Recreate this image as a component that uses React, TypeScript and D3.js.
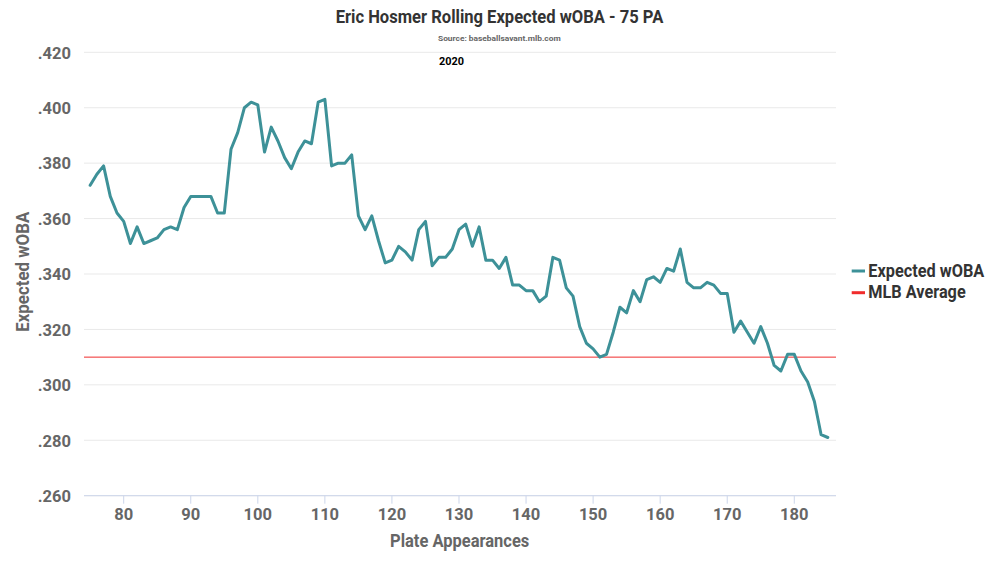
import React from "react";
import * as d3 from "d3";

const startPA = 75;
const xwoba: number[] = [
  0.372, 0.376, 0.379, 0.368, 0.362, 0.359, 0.351, 0.357, 0.351, 0.352,
  0.353, 0.356, 0.357, 0.356, 0.364, 0.368, 0.368, 0.368, 0.368, 0.362,
  0.362, 0.385, 0.391, 0.400, 0.402, 0.401, 0.384, 0.393, 0.388, 0.382,
  0.378, 0.384, 0.388, 0.387, 0.402, 0.403, 0.379, 0.380, 0.380, 0.383,
  0.361, 0.356, 0.361, 0.352, 0.344, 0.345, 0.350, 0.348, 0.345, 0.356,
  0.359, 0.343, 0.346, 0.346, 0.349, 0.356, 0.358, 0.350, 0.357, 0.345,
  0.345, 0.342, 0.346, 0.336, 0.336, 0.334, 0.334, 0.330, 0.332, 0.346,
  0.345, 0.335, 0.332, 0.321, 0.315, 0.313, 0.310, 0.311, 0.319, 0.328,
  0.326, 0.334, 0.330, 0.338, 0.339, 0.337, 0.342, 0.341, 0.349, 0.337,
  0.335, 0.335, 0.337, 0.336, 0.333, 0.333, 0.319, 0.323, 0.319, 0.315,
  0.321, 0.315, 0.307, 0.305, 0.311, 0.311, 0.305, 0.301, 0.294, 0.282,
  0.281,
];
const mlbAverage = 0.31;
const xTicks = [80, 90, 100, 110, 120, 130, 140, 150, 160, 170, 180];
const yTicks = [0.26, 0.28, 0.3, 0.32, 0.34, 0.36, 0.38, 0.4, 0.42];

const title = "Eric Hosmer Rolling Expected wOBA - 75 PA";
const subtitle = "Source: baseballsavant.mlb.com";
const seasonLabel = "2020";
const xTitle = "Plate Appearances";
const yTitle = "Expected wOBA";
const seriesNames = ["Expected wOBA", "MLB Average"];

const TEAL = "#3d9198";
const RED = "#f02c2c";
const FONT = "Roboto, 'Noto Sans', sans-serif";

export default function App() {
  React.useEffect(() => {
    document.body.style.margin = "0";
  }, []);

  const left = 84;
  const right = 836;
  const top = 52.3;
  const bottom = 495.7;

  const x = d3.scaleLinear().domain([74.08, 186.22]).range([left, right]);
  const y = d3.scaleLinear().domain([0.26, 0.42]).range([bottom, top]);

  const pts = xwoba.map((v, i) => [startPA + i, v] as [number, number]);
  const line = d3
    .line<[number, number]>()
    .x((d) => x(d[0]))
    .y((d) => y(d[1]));

  const fmt = (v: number) => d3.format(".3f")(v).replace(/^0/, "");

  return (
    <svg
      width={1000}
      height={563}
      style={{ position: "absolute", left: 0, top: 0, background: "#fff" }}
      fontFamily={FONT}
    >
      <rect x={0} y={0} width={1000} height={563} fill="#fff" />
      {/* grid */}
      {yTicks.map((t) => (
        <line
          key={"g" + t}
          x1={left}
          x2={right}
          y1={y(t)}
          y2={y(t)}
          stroke="#e9e9e9"
          strokeWidth={1}
        />
      ))}
      {/* axis line */}
      <line x1={left} x2={right} y1={bottom} y2={bottom} stroke="#ccd6eb" strokeWidth={1} />
      {xTicks.map((t) => (
        <g key={"x" + t}>
          <line x1={x(t)} x2={x(t)} y1={bottom} y2={bottom + 8} stroke="#ccd6eb" strokeWidth={1} />
          <text
            x={x(t)}
            y={520}
            textAnchor="middle"
            fontSize={16.5}
            fontWeight="bold"
            fill="#666666"
          >
            {t}
          </text>
        </g>
      ))}
      {yTicks.map((t) => (
        <text
          key={"y" + t}
          x={71}
          y={y(t) + 6.3}
          textAnchor="end"
          fontSize={16.5}
          fontWeight="bold"
          fill="#666666"
        >
          {fmt(t)}
        </text>
      ))}
      {/* MLB average */}
      <line
        x1={left}
        x2={right}
        y1={y(mlbAverage)}
        y2={y(mlbAverage)}
        stroke={RED}
        strokeWidth={1}
      />
      {/* series */}
      <path
        d={line(pts) || ""}
        fill="none"
        stroke={TEAL}
        strokeWidth={3}
        strokeLinejoin="round"
        strokeLinecap="round"
      />
      {/* titles */}
      <text
        x={335.7}
        y={23.3}
        fontSize={18}
        fontWeight="bold"
        fill="#333333"
        textLength={327.6}
        lengthAdjust="spacingAndGlyphs"
      >
        {title}
      </text>
      <text
        x={438}
        y={40.7}
        fontSize={8}
        fontWeight="bold"
        fill="#666666"
        textLength={122.7}
        lengthAdjust="spacingAndGlyphs"
      >
        {subtitle}
      </text>
      <text
        x={439}
        y={65}
        fontSize={10}
        fontWeight="bold"
        fill="#000000"
        textLength={25}
        lengthAdjust="spacingAndGlyphs"
      >
        {seasonLabel}
      </text>
      <text
        x={390}
        y={546.7}
        fontSize={17.5}
        fontWeight="bold"
        fill="#666666"
        textLength={139.3}
        lengthAdjust="spacingAndGlyphs"
      >
        {xTitle}
      </text>
      <text
        transform="translate(29.3,331.7) rotate(-90)"
        x={0}
        y={0}
        fontSize={17.5}
        fontWeight="bold"
        fill="#666666"
        textLength={120}
        lengthAdjust="spacingAndGlyphs"
      >
        {yTitle}
      </text>
      {/* legend */}
      <line x1={851.7} x2={865} y1={271} y2={271} stroke={TEAL} strokeWidth={3} />
      <text
        x={868.3}
        y={276.7}
        fontSize={18}
        fontWeight="bold"
        fill="#333333"
        textLength={116}
        lengthAdjust="spacingAndGlyphs"
      >
        {seriesNames[0]}
      </text>
      <line x1={851.7} x2={865} y1={292.7} y2={292.7} stroke={RED} strokeWidth={3} />
      <text
        x={868.3}
        y={298.3}
        fontSize={18}
        fontWeight="bold"
        fill="#333333"
        textLength={97.4}
        lengthAdjust="spacingAndGlyphs"
      >
        {seriesNames[1]}
      </text>
    </svg>
  );
}
